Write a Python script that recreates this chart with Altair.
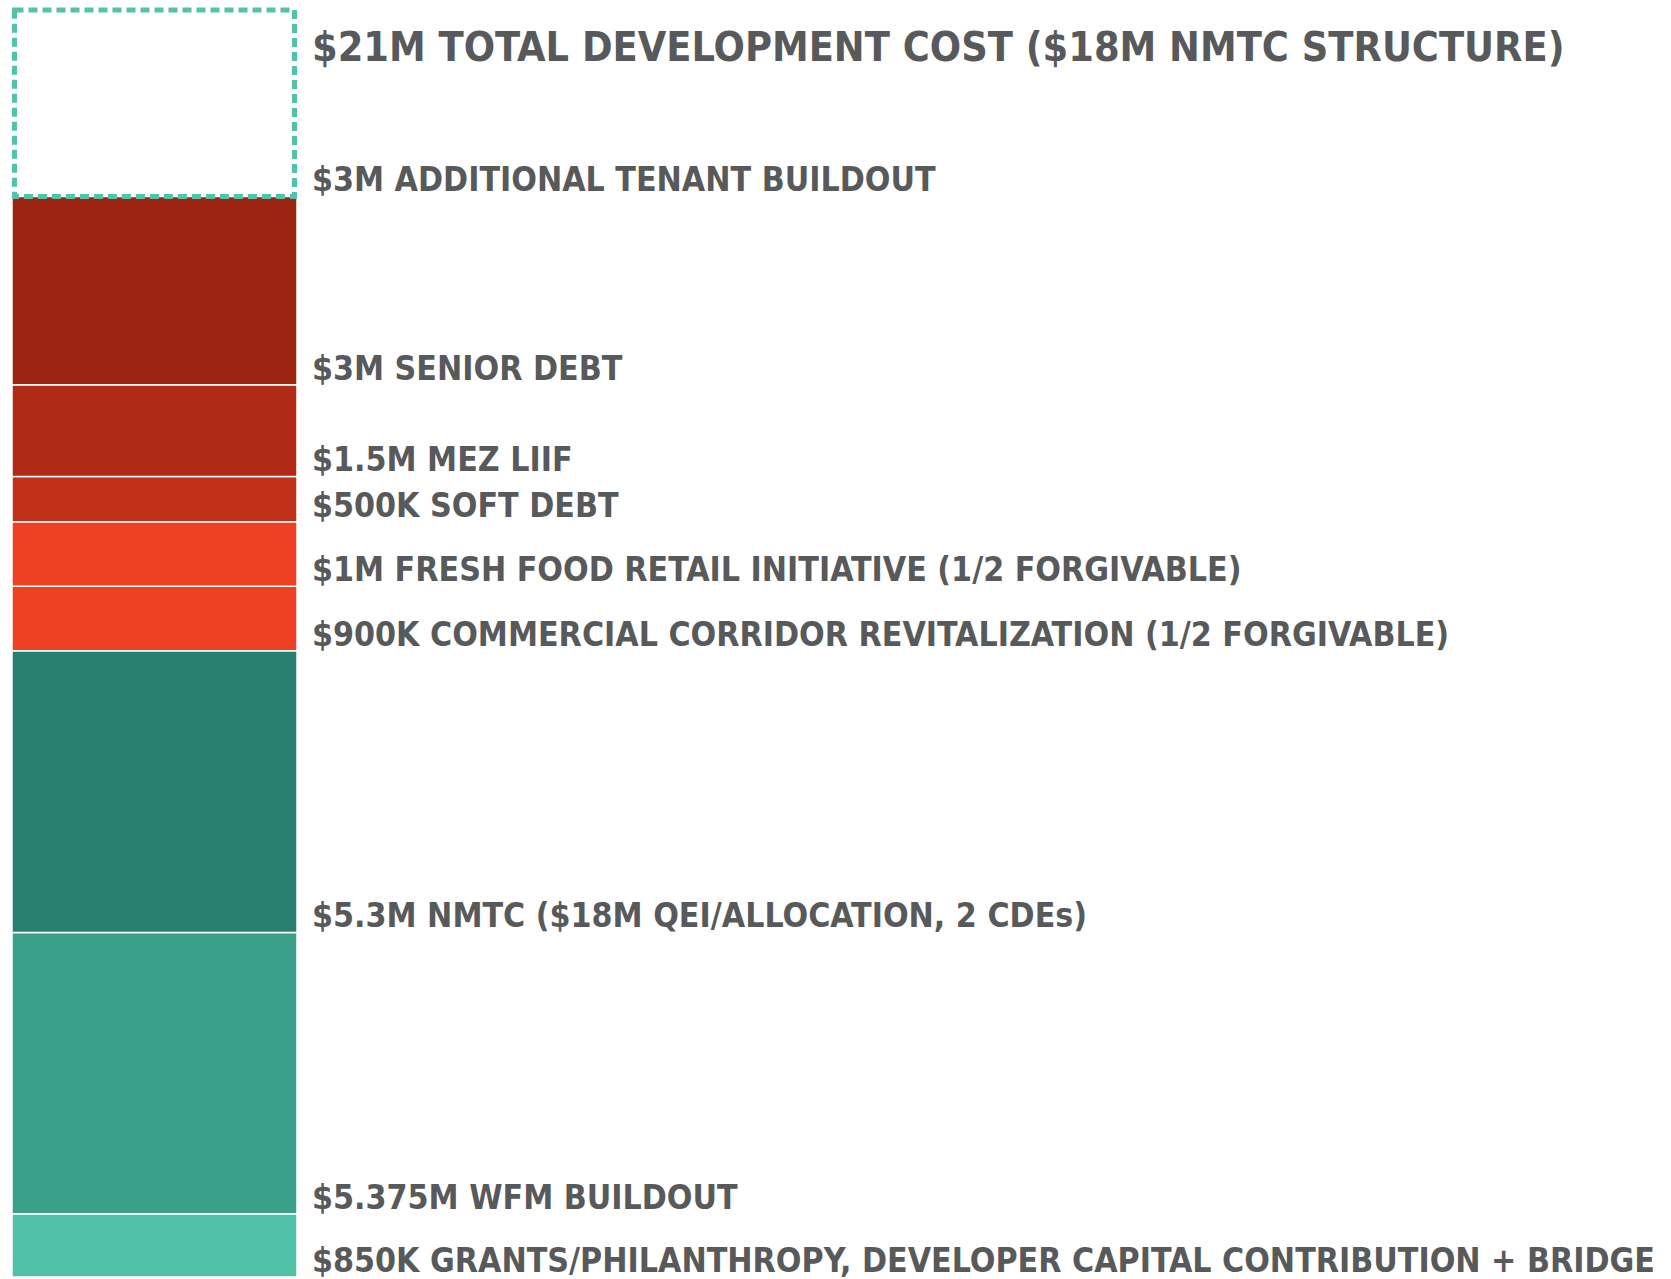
import altair as alt
import pandas as pd

# bottom-to-top stack order
labels = [
    "$850K GRANTS/PHILANTHROPY, DEVELOPER CAPITAL CONTRIBUTION + BRIDGE",
    "$5.375M WFM BUILDOUT",
    "$5.3M NMTC ($18M QEI/ALLOCATION, 2 CDEs)",
    "$900K COMMERCIAL CORRIDOR REVITALIZATION (1/2 FORGIVABLE)",
    "$1M FRESH FOOD RETAIL INITIATIVE (1/2 FORGIVABLE)",
    "$500K SOFT DEBT",
    "$1.5M MEZ LIIF",
    "$3M SENIOR DEBT",
    "$3M ADDITIONAL TENANT BUILDOUT",
]
# segment heights as drawn (in $M-equivalent display units)
heights = [1.05, 4.66, 4.67, 1.07, 1.07, 0.75, 1.52, 3.12, 3.09]
kinds = ["solid"] * 8 + ["dashed"]
colors = ["#50c0a6", "#3aa08a", "#287f6f", "#f04023", "#f04023",
          "#c0301a", "#b02a16", "#9b2310", "#ffffff"]
title_text = "$21M TOTAL DEVELOPMENT COST ($18M NMTC STRUCTURE)"

ends = pd.Series(heights).cumsum()
df = pd.DataFrame({
    "label": labels,
    "y0": ends - pd.Series(heights),
    "y1": ends,
    "kind": kinds,
    "color": colors,
})
total = float(ends.iloc[-1])
title_df = pd.DataFrame({"label": [title_text], "y": [total]})

FONT = "Liberation Sans Narrow, DejaVu Sans Condensed, sans-serif"
yscale = alt.Scale(domain=[0, total], nice=False, zero=True)

solid = alt.Chart(df).transform_filter("datum.kind == 'solid'").mark_rect(
    stroke="white", strokeWidth=1.5
).encode(
    x=alt.value(12), x2=alt.value(297),
    y=alt.Y("y0:Q", scale=yscale, axis=None),
    y2="y1:Q",
    color=alt.Color("color:N", scale=None, legend=None),
)

dashed = alt.Chart(df).transform_filter("datum.kind == 'dashed'").mark_rect(
    fill="white", stroke="#52c3a8", strokeWidth=5, strokeDash=[9, 5]
).encode(
    x=alt.value(14.5), x2=alt.value(294.5),
    y=alt.Y("y0:Q", scale=yscale, axis=None),
    y2="y1:Q",
)

text = alt.Chart(df).mark_text(
    align="left", baseline="alphabetic", dy=-5, font=FONT, fontWeight="bold",
    fontSize=33.6, color="#58595b"
).encode(
    x=alt.value(312),
    y=alt.Y("y0:Q", scale=yscale, axis=None),
    text="label:N",
)

title = alt.Chart(title_df).mark_text(
    align="left", baseline="alphabetic", dy=51, font=FONT, fontWeight="bold",
    fontSize=41, color="#58595b"
).encode(
    x=alt.value(312),
    y=alt.Y("y:Q", scale=yscale, axis=None),
    text="label:N",
)

chart = alt.layer(solid, dashed, text, title).properties(
    width=1671, height=1267,
    autosize=alt.AutoSizeParams(type="none"),
    padding={"top": 10, "left": 0, "right": 0, "bottom": 2},
).configure_view(stroke=None)

chart.save("out.html", embed_options={"renderer": "svg", "actions": False})
